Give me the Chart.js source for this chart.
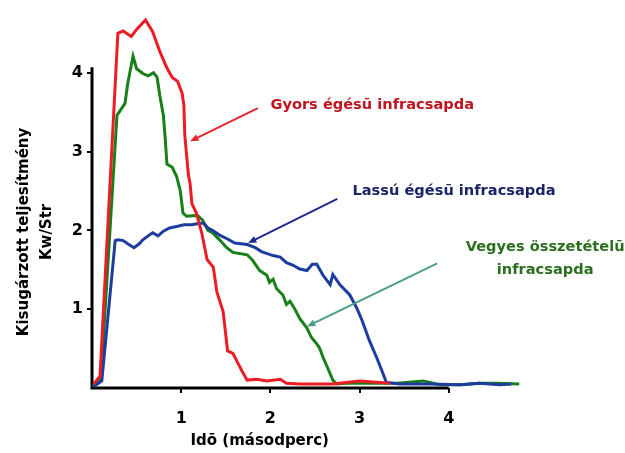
<!DOCTYPE html>
<html>
<head>
<meta charset="utf-8">
<script src="https://cdn.jsdelivr.net/npm/chart.js@4.4.1/dist/chart.umd.min.js"></script>
<style>
  html, body { margin: 0; padding: 0; background: #fff; }
  #wrap { width: 625px; height: 453px; }
</style>
</head>
<body>
<div id="wrap"><canvas id="chart"></canvas></div>
<script>
// Kisugárzott teljesítmény (Kw/Str) az idő függvényében
const redX   = [0.02, 0.06, 0.09, 0.29, 0.35, 0.44, 0.50, 0.60, 0.68, 0.76, 0.84, 0.90, 0.96, 1.01, 1.03, 1.04, 1.08, 1.10, 1.12, 1.17, 1.23, 1.29, 1.36, 1.40, 1.47, 1.52, 1.58, 1.62, 1.68, 1.74, 1.85, 1.96, 2.11, 2.18, 2.33, 2.70, 3.00, 3.34];
const redY   = [0.05, 0.11, 0.15, 4.50, 4.53, 4.46, 4.55, 4.67, 4.52, 4.27, 4.06, 3.94, 3.89, 3.74, 3.59, 3.21, 2.71, 2.59, 2.34, 2.22, 1.97, 1.63, 1.53, 1.22, 0.97, 0.47, 0.44, 0.35, 0.22, 0.10, 0.11, 0.09, 0.11, 0.06, 0.05, 0.05, 0.09, 0.06];

const blueX  = [0.02, 0.11, 0.26, 0.29, 0.35, 0.40, 0.47, 0.53, 0.57, 0.63, 0.68, 0.74, 0.80, 0.87, 0.95, 1.03, 1.12, 1.21, 1.25, 1.30, 1.35, 1.43, 1.52, 1.60, 1.74, 1.83, 1.90, 2.03, 2.11, 2.18, 2.25, 2.33, 2.41, 2.47, 2.52, 2.59, 2.67, 2.70, 2.78, 2.89, 2.97, 3.03, 3.11, 3.19, 3.26, 3.30, 3.45, 3.79, 4.12, 4.34, 4.57, 4.70];
const blueY  = [0.02, 0.09, 1.87, 1.88, 1.87, 1.83, 1.78, 1.83, 1.88, 1.93, 1.97, 1.93, 1.99, 2.03, 2.05, 2.07, 2.07, 2.09, 2.09, 2.03, 2.00, 1.94, 1.89, 1.84, 1.82, 1.78, 1.73, 1.68, 1.66, 1.59, 1.56, 1.51, 1.49, 1.57, 1.57, 1.43, 1.31, 1.44, 1.31, 1.18, 1.01, 0.85, 0.60, 0.39, 0.19, 0.07, 0.05, 0.05, 0.04, 0.06, 0.04, 0.05];

const greenX = [0.01, 0.03, 0.10, 0.28, 0.31, 0.37, 0.40, 0.46, 0.50, 0.57, 0.63, 0.69, 0.73, 0.76, 0.80, 0.82, 0.84, 0.90, 0.95, 0.99, 1.02, 1.06, 1.18, 1.24, 1.30, 1.35, 1.43, 1.51, 1.58, 1.74, 1.80, 1.88, 1.96, 1.99, 2.03, 2.07, 2.14, 2.18, 2.22, 2.27, 2.33, 2.41, 2.46, 2.52, 2.55, 2.59, 2.64, 2.70, 2.74, 2.86, 3.11, 3.42, 3.71, 3.79, 3.90, 4.15, 4.34, 4.54, 4.79];
const greenY = [0.02, 0.05, 0.11, 3.46, 3.51, 3.61, 3.86, 4.21, 4.05, 3.99, 3.96, 4.00, 3.94, 3.71, 3.46, 3.18, 2.84, 2.80, 2.68, 2.50, 2.22, 2.18, 2.19, 2.13, 2.00, 1.97, 1.88, 1.78, 1.72, 1.69, 1.62, 1.49, 1.43, 1.34, 1.38, 1.26, 1.18, 1.06, 1.10, 1.01, 0.88, 0.76, 0.64, 0.56, 0.51, 0.39, 0.26, 0.10, 0.05, 0.06, 0.06, 0.06, 0.09, 0.07, 0.04, 0.04, 0.06, 0.06, 0.05];

const xTicks = [1, 2, 3, 4];
const yTicks = [1, 2, 3, 4];

const xTitle = 'Idō (másodperc)';
const yTitle = ['Kisugárzott teljesítmény', 'Kw/Str'];

// feliratok + nyilak (adat koordinátákban)
const labels = [
  { lines: ['Gyors égésū infracsapda'], x: 2.00, y: 3.59, align: 'left', color: '#c0141e',
    arrow: { from: [1.86, 3.55], to: [1.10, 3.13], color: '#e8262a' } },
  { lines: ['Lassú égésū infracsapda'], x: 2.92, y: 2.50, align: 'left', color: '#1a2466',
    arrow: { from: [2.75, 2.40], to: [1.75, 1.84], color: '#1e2a8c' } },
  { lines: ['Vegyes összetételū', 'infracsapda'], x: 5.08, y: 1.78, align: 'center', color: '#2a6e1e',
    arrow: { from: [3.87, 1.58], to: [2.41, 0.78], color: '#4a9e86' } },
];

const FONT = '"DejaVu Sans", Verdana, sans-serif';

function pts(xs, ys) {
  return xs.map((x, i) => ({ x: x, y: ys[i] }));
}

const decor = {
  id: 'decor',
  beforeDatasetsDraw(chart) {
    const { ctx, scales: { x, y } } = chart;
    ctx.save();
    ctx.strokeStyle = '#000';
    ctx.lineWidth = 3;
    ctx.beginPath();
    ctx.moveTo(x.getPixelForValue(0), y.getPixelForValue(4.07));
    ctx.lineTo(x.getPixelForValue(0), y.getPixelForValue(0));
    ctx.lineTo(x.getPixelForValue(4.0), y.getPixelForValue(0));
    ctx.stroke();
    ctx.restore();
  },
  afterDatasetsDraw(chart) {
    const { ctx, chartArea, scales: { x, y } } = chart;
    ctx.save();

    // x title
    ctx.fillStyle = '#000';
    ctx.font = 'bold 15px ' + FONT;
    ctx.textAlign = 'center';
    ctx.textBaseline = 'middle';
    ctx.fillText(xTitle, x.getPixelForValue(1.88), chartArea.bottom + 53);

    // y title (two rotated lines)
    const yc = y.getPixelForValue(1.98);
    [24, 47].forEach((px, i) => {
      ctx.save();
      ctx.translate(px, yc);
      ctx.rotate(-Math.PI / 2);
      ctx.fillText(yTitle[i], 0, 0);
      ctx.restore();
    });

    // annotations
    labels.forEach(l => {
      const a = l.arrow;
      const x1 = x.getPixelForValue(a.from[0]), y1 = y.getPixelForValue(a.from[1]);
      const x2 = x.getPixelForValue(a.to[0]), y2 = y.getPixelForValue(a.to[1]);
      const ang = Math.atan2(y2 - y1, x2 - x1);
      ctx.strokeStyle = a.color;
      ctx.fillStyle = a.color;
      ctx.lineWidth = 2;
      ctx.beginPath();
      ctx.moveTo(x1, y1);
      ctx.lineTo(x2 - 6 * Math.cos(ang), y2 - 6 * Math.sin(ang));
      ctx.stroke();
      ctx.beginPath();
      ctx.moveTo(x2, y2);
      ctx.lineTo(x2 - 9 * Math.cos(ang - 0.4), y2 - 9 * Math.sin(ang - 0.4));
      ctx.lineTo(x2 - 9 * Math.cos(ang + 0.4), y2 - 9 * Math.sin(ang + 0.4));
      ctx.closePath();
      ctx.fill();

      ctx.fillStyle = l.color;
      ctx.font = 'bold 14.6px ' + FONT;
      ctx.textAlign = l.align;
      ctx.textBaseline = 'middle';
      l.lines.forEach((t, i) => {
        ctx.fillText(t, x.getPixelForValue(l.x), y.getPixelForValue(l.y) + i * 23);
      });
    });
    ctx.restore();
  }
};

const tickColor = v => (xTicks.includes(v) ? '#000' : 'rgba(0,0,0,0)');

new Chart(document.getElementById('chart'), {
  type: 'line',
  data: {
    datasets: [
      { data: pts(redX, redY),     borderColor: '#ec1c24' },
      { data: pts(blueX, blueY),   borderColor: '#1c3ca0' },
      { data: pts(greenX, greenY), borderColor: '#188018' },
    ].map(d => Object.assign(d, { borderWidth: 3, pointRadius: 0, tension: 0, fill: false }))
  },
  options: {
    responsive: true,
    maintainAspectRatio: false,
    animation: false,
    layout: { padding: { top: 7, right: 87, left: 0, bottom: 0 } },
    plugins: { legend: { display: false }, tooltip: { enabled: false } },
    scales: {
      x: {
        type: 'linear', min: 0, max: 5,
        afterFit: s => { s.height = 65; },
        border: { display: false },
        grid: { drawOnChartArea: false, drawTicks: true, tickLength: 5, lineWidth: 2,
                color: c => tickColor(c.tick.value) },
        ticks: { stepSize: 1, padding: 16, color: '#000', font: { family: FONT, size: 16, weight: 'bold' },
                 callback: v => (xTicks.includes(v) ? v : '') }
      },
      y: {
        type: 'linear', min: 0, max: 4.75,
        afterFit: s => { s.width = 92; },
        border: { display: false },
        grid: { drawOnChartArea: false, drawTicks: true, tickLength: 5, lineWidth: 2,
                color: c => (yTicks.includes(c.tick.value) ? '#000' : 'rgba(0,0,0,0)') },
        ticks: { stepSize: 1, padding: 4, color: '#000', font: { family: FONT, size: 16, weight: 'bold' },
                 callback: v => (yTicks.includes(v) ? v : '') }
      }
    }
  },
  plugins: [decor]
});
</script>
</body>
</html>
